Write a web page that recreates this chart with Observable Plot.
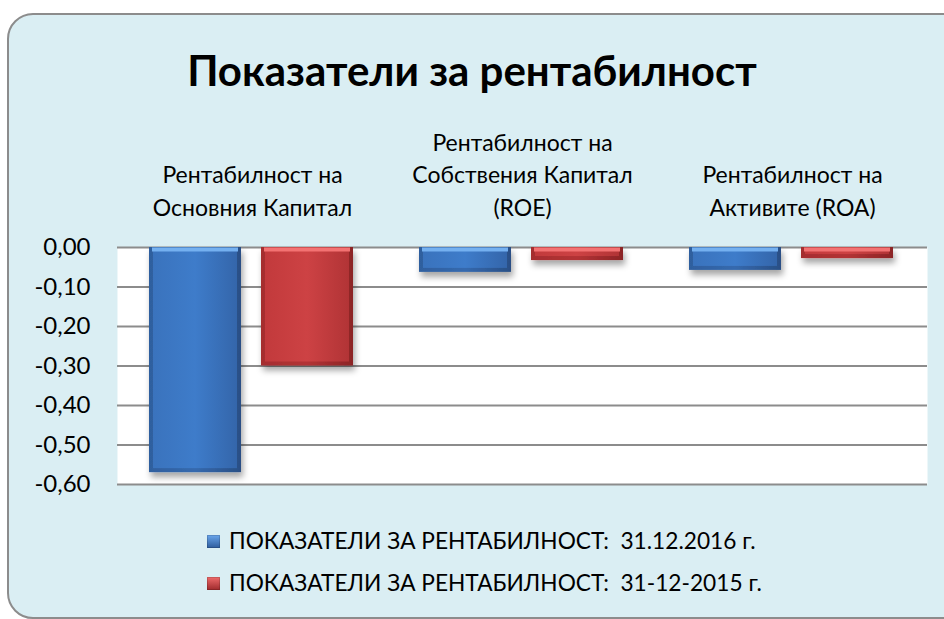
<!DOCTYPE html>
<html>
<head>
<meta charset="utf-8">
<script src="https://cdn.jsdelivr.net/npm/d3@7"></script>
<script src="https://cdn.jsdelivr.net/npm/@observablehq/plot@0.6"></script>
<style>
  html, body { margin: 0; padding: 0; background: #fff; }
  #root { position: relative; width: 944px; height: 619px; overflow: hidden; background: #fff; font-family: Lato, "Open Sans", sans-serif; color: #000; }
  #card { position: absolute; left: 7px; top: 13px; width: 970px; height: 606px; box-sizing: border-box; border: 2px solid #8c8c8c; border-radius: 26px; background: #DAEEF3; }
  #title { position: absolute; left: 0; top: 45px; width: 944px; text-align: center; font-weight: 700; font-size: 42px; line-height: 50px; }
  #chart { position: absolute; left: 0; top: 120px; }
  .leg { position: absolute; left: 207px; font-size: 22.7px; line-height: 28px; white-space: pre; }
  .leg i { display: inline-block; width: 13px; height: 13px; margin-right: 9px; vertical-align: 1px; }
</style>
</head>
<body>
<div id="root">
  <div id="card"></div>
  <div id="title">Показатели за рентабилност</div>
  <div id="chart"></div>
  <div class="leg" id="leg1" style="top:527px"></div>
  <div class="leg" id="leg2" style="top:569px"></div>
</div>
<script>
const categories = ["Рентабилност на\nОсновния Капитал", "Рентабилност на\nСобствения Капитал\n(ROE)", "Рентабилност на\nАктивите (ROA)"];
const seriesNames = ["ПОКАЗАТЕЛИ ЗА РЕНТАБИЛНОСТ:  31.12.2016 г.", "ПОКАЗАТЕЛИ ЗА РЕНТАБИЛНОСТ:  31-12-2015 г."];
const values2016 = [-0.57, -0.063, -0.058];
const values2015 = [-0.30, -0.033, -0.028];
const yTicks = [0, -0.1, -0.2, -0.3, -0.4, -0.5, -0.6];

const d16 = categories.map((c, i) => ({cat: c, series: seriesNames[0], value: values2016[i]}));
const d15 = categories.map((c, i) => ({cat: c, series: seriesNames[1], value: values2015[i]}));
const fmt = d => d3.format(".2f")(d).replace(".", ",").replace("−", "-");

// bar placement inside each 270px category band
const B = {l: 32, r: 146}; // 2016 bar insets
const R = {l: 144, r: 34}; // 2015 bar insets

const chart = Plot.plot({
  width: 944,
  height: 374,
  marginTop: 127,
  marginLeft: 117,
  marginRight: 17,
  marginBottom: 10,
  style: {background: "transparent", fontFamily: "Lato, 'Open Sans', sans-serif", fontSize: "24px", color: "#000", overflow: "visible"},
  x: {domain: categories, padding: 0, axis: null},
  y: {domain: [-0.6, 0], ticks: yTicks, tickFormat: fmt, tickSize: 0, tickPadding: 27, label: null},
  marks: [
    Plot.frame({fill: "white", stroke: "none"}),
    Plot.ruleY(yTicks, {stroke: "#8c8c8c", strokeWidth: 2}),
    Plot.barY(d16, {x: "cat", y: "value", fill: "url(#gBlueOuter)", insetLeft: B.l, insetRight: B.r}),
    Plot.barY(d16, {x: "cat", y: "value", fill: "url(#gBlue)", insetLeft: B.l + 4, insetRight: B.r + 4, insetTop: 4, insetBottom: 4}),
    Plot.barY(d15, {x: "cat", y: "value", fill: "url(#gRedOuter)", insetLeft: R.l, insetRight: R.r}),
    Plot.barY(d15, {x: "cat", y: "value", fill: "url(#gRed)", insetLeft: R.l + 4, insetRight: R.r + 4, insetTop: 4, insetBottom: 4}),
    Plot.tickY(d16, {x: "cat", y: d => 0, stroke: "#74b0f0", strokeWidth: 4, dy: 2, insetLeft: B.l + 3, insetRight: B.r + 3}),
    Plot.tickY(d15, {x: "cat", y: d => 0, stroke: "#f37272", strokeWidth: 4, dy: 2, insetLeft: R.l + 3, insetRight: R.r + 3}),
    Plot.text(categories, {x: d => d, text: d => d, frameAnchor: "top", lineAnchor: "bottom", dy: -32, lineHeight: 1.4, fontSize: 23, fill: "#000"})
  ]
});

const svg = d3.select(chart);
const defs = svg.insert("defs", ":first-child");
function hGrad(id, stops) {
  const g = defs.append("linearGradient").attr("id", id).attr("x1", 0).attr("x2", 1).attr("y1", 0).attr("y2", 0);
  stops.forEach(([o, c]) => g.append("stop").attr("offset", o).attr("stop-color", c));
}
hGrad("gBlueOuter", [[0, "#2f5f9e"], [0.5, "#3569ae"], [1, "#294f85"]]);
hGrad("gBlue", [[0, "#3a73bd"], [0.5, "#3e7cca"], [1, "#3466ab"]]);
hGrad("gRedOuter", [[0, "#a52d2f"], [0.5, "#b33335"], [1, "#8c2426"]]);
hGrad("gRed", [[0, "#c23a3c"], [0.5, "#cd4244"], [1, "#b23436"]]);
const f = defs.append("filter").attr("id", "shadow").attr("x", "-20%").attr("y", "-20%").attr("width", "140%").attr("height", "160%");
f.append("feDropShadow").attr("dx", 2).attr("dy", 5).attr("stdDeviation", 3).attr("flood-color", "#000").attr("flood-opacity", 0.35);
svg.selectAll('g[aria-label="bar"]').filter((d, i) => i === 0 || i === 2).attr("filter", "url(#shadow)");

document.getElementById("chart").appendChild(chart);

function legendItem(el, name, top, bottom) {
  el.innerHTML = `<i style="background:linear-gradient(${top}, ${bottom}); box-shadow: inset 0 0 0 1px rgba(0,0,0,0.15)"></i>`;
  el.appendChild(document.createTextNode(name));
}
legendItem(document.getElementById("leg1"), seriesNames[0], "#6aa6ec", "#2d5c9c");
legendItem(document.getElementById("leg2"), seriesNames[1], "#ef6b6b", "#9e2a2c");
</script>
</body>
</html>
